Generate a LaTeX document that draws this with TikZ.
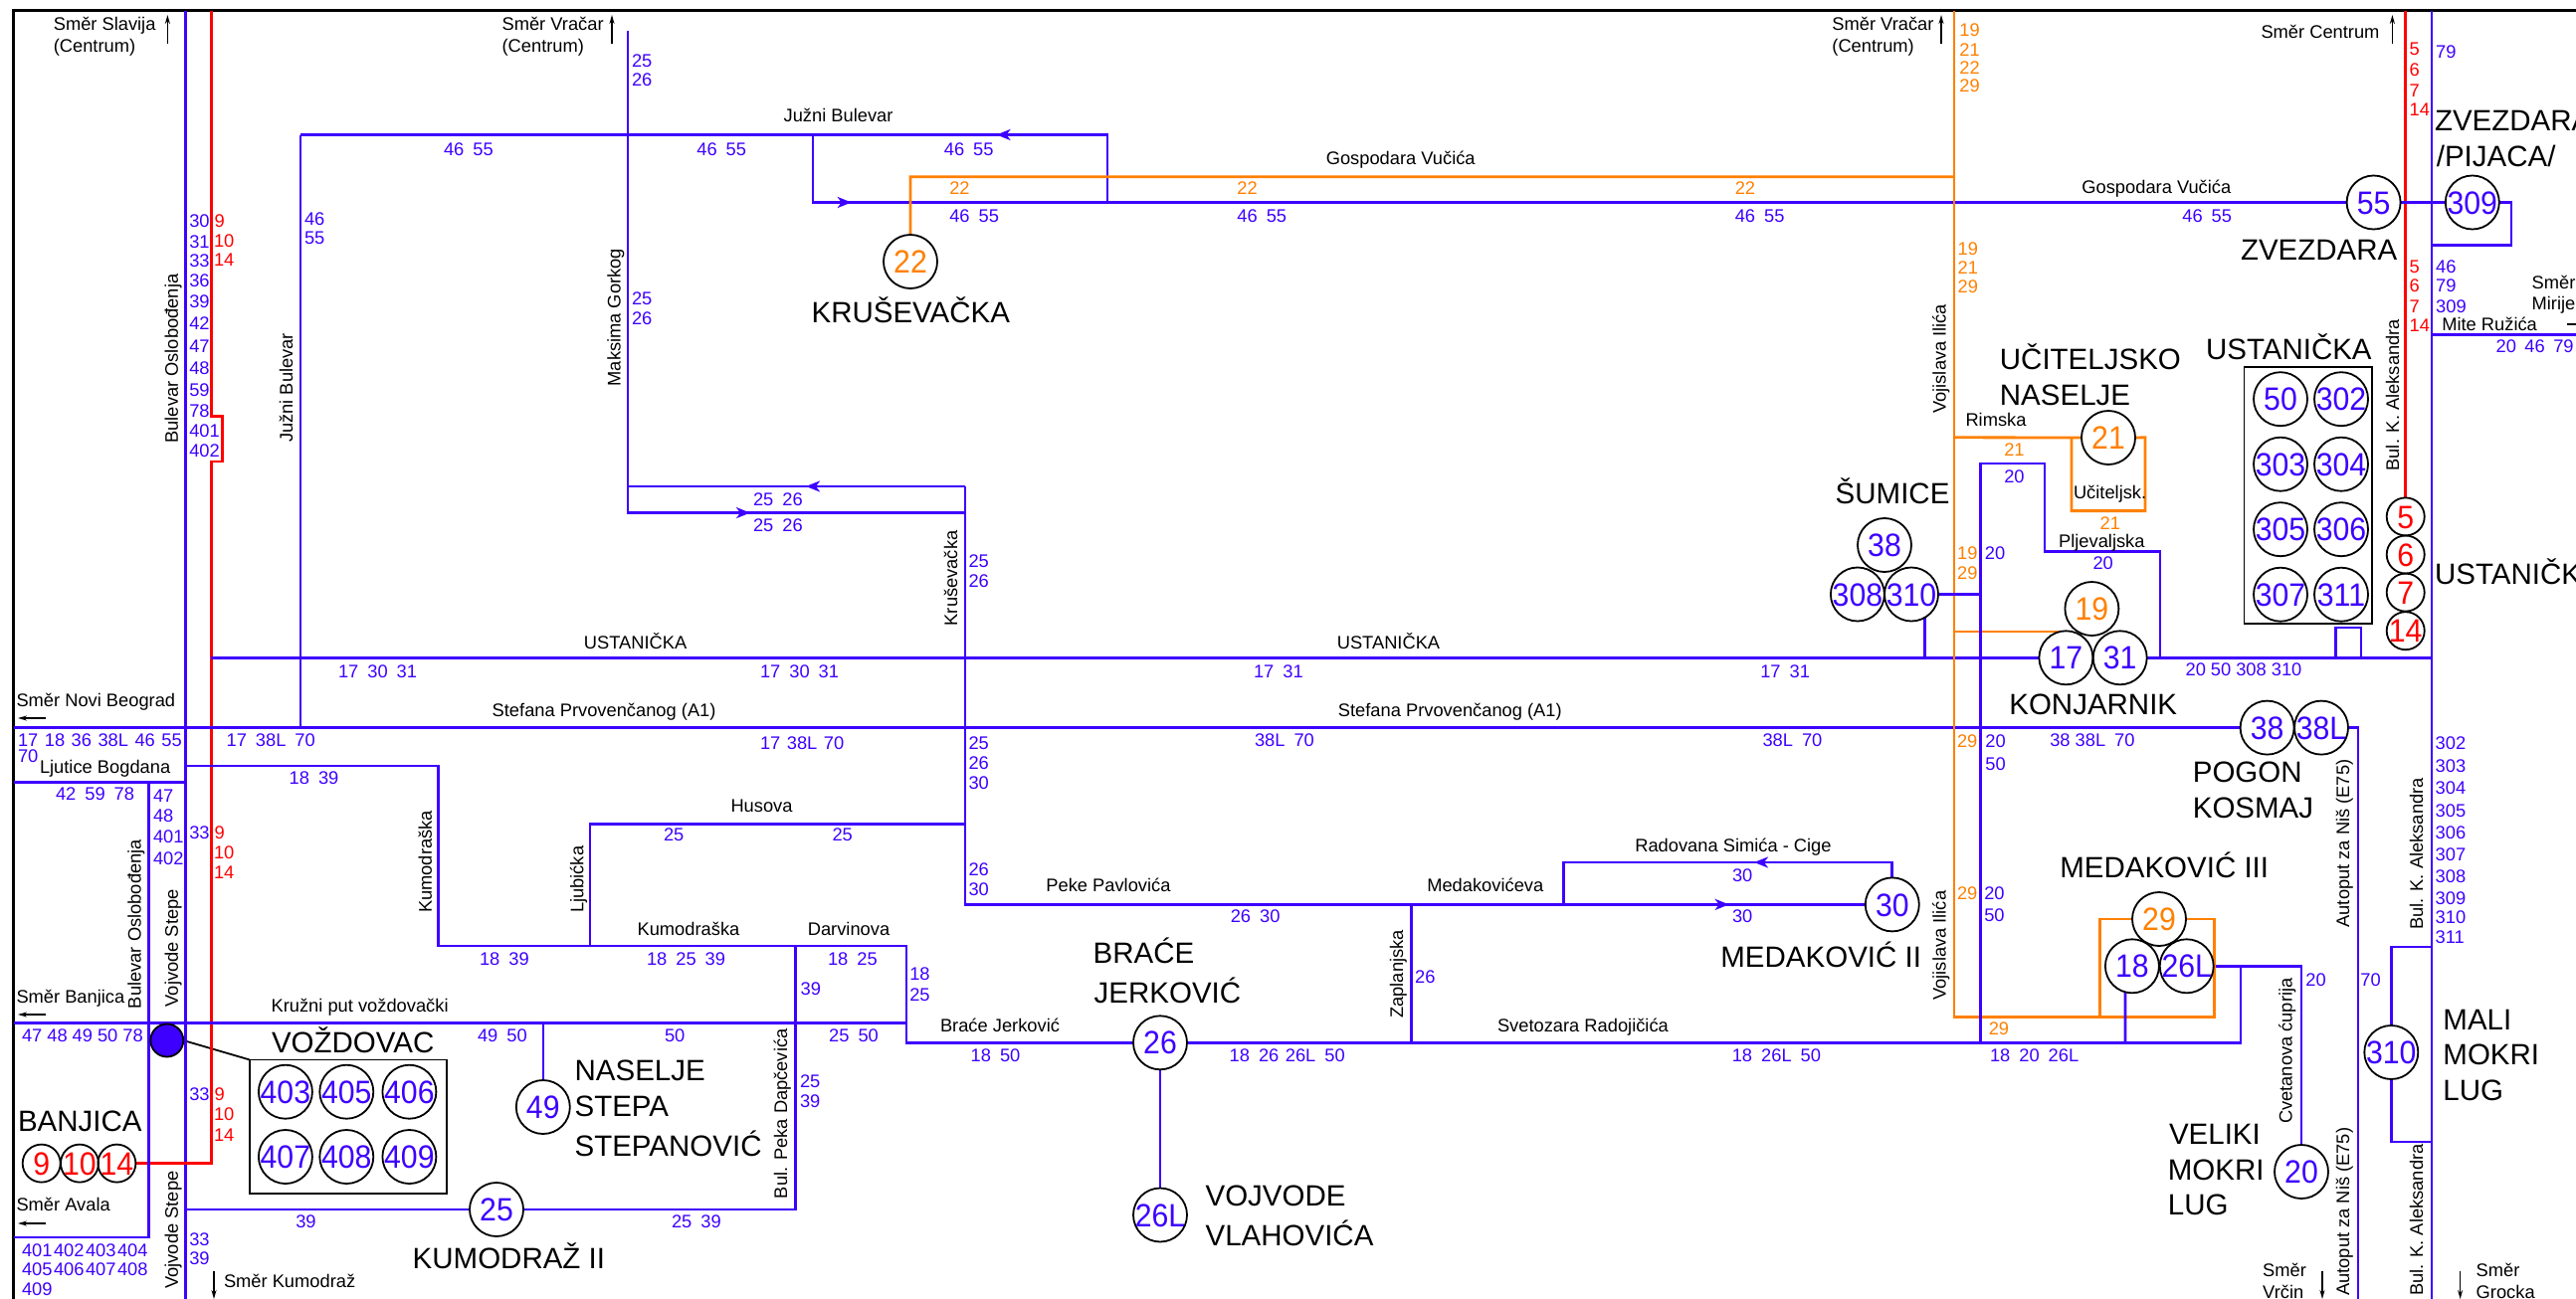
\documentclass[tikz,border=0pt]{standalone}
\usepackage{fontspec}
\usepackage{graphicx}
\setmainfont{Liberation Sans}
\usetikzlibrary{arrows.meta}
\definecolor{rb}{HTML}{3D00FF}
\definecolor{rr}{HTML}{FF0000}
\definecolor{ro}{HTML}{FF8000}
\pgfdeclarelayer{lines}
\pgfsetlayers{lines,main}
\tikzset{
  txt/.style={anchor=base west,inner sep=0pt,outer sep=0pt,font=\fontsize{18.3}{20}\selectfont},
  big/.style={txt,font=\fontsize{29.5}{32}\selectfont},
  vtxt/.style={txt,rotate=90},
  stn/.style={circle,draw=black,line width=1.8pt,inner sep=0pt,outer sep=0pt,font=\fontsize{32.5}{34}\selectfont},
  bl/.style={draw=rb,line width=2.8pt,line join=miter},
  bt/.style={draw=rb,line width=2.3pt,line join=miter},
  rd/.style={draw=rr,line width=2.8pt,line join=miter},
  og/.style={draw=ro,line width=2.8pt,line join=miter},
  dirarrow/.style={draw=black,line width=1.6pt,-{Stealth[length=9pt,width=5pt]}},
  routearrow/.style={draw=rb,line width=2.8pt,-{Stealth[length=14pt,width=11pt,inset=4pt]}},
  boxk/.style={draw=black,line width=1.8pt}
}
\newcounter{tx}
\newcommand\Tx[4]{\stepcounter{tx}\node[#1] (t\arabic{tx}) at (#2,#3) {#4};}
\newcommand\NumB[3]{\Tx{txt,text=rb}{#1}{#2}{#3}}
\newcommand\NumR[3]{\Tx{txt,text=rr}{#1}{#2}{#3}}
\newcommand\NumO[3]{\Tx{txt,text=ro}{#1}{#2}{#3}}
\newcommand\TxtK[3]{\Tx{txt}{#1}{#2}{#3}}
\newcommand\TxtV[3]{\Tx{vtxt}{#1}{#2}{#3}}
\newcommand\TxtB[3]{\Tx{big}{#1}{#2}{#3}}
\newcommand\St[6]{\node[stn,text=#2,minimum size=#6pt] (#1) at (#3,#4) {\smash{\raisebox{-.358em}{\makebox[0pt]{\scalebox{.93}[1]{#5}}}}};}
\newcommand\gp{\hspace{9pt}}
\begin{document}
\begin{tikzpicture}[x=1pt,y=-1pt]
\useasboundingbox (0,0) rectangle (2589,1306);
% ---------- stations
\St{s22}{ro}{915}{263}{22}{54}
\St{s55}{rb}{2385.6}{203.5}{55}{54}
\St{s309}{rb}{2484.8}{203.5}{309}{54}
\St{s21}{ro}{2119}{440}{21}{54}
\St{s50}{rb}{2292}{401.2}{50}{54}
\St{s302}{rb}{2353}{401.2}{302}{54}
\St{s303}{rb}{2292}{466.7}{303}{54}
\St{s304}{rb}{2353}{466.7}{304}{54}
\St{s305}{rb}{2292}{532.2}{305}{54}
\St{s306}{rb}{2353}{532.2}{306}{54}
\St{s307}{rb}{2292}{597.7}{307}{54}
\St{s311}{rb}{2353}{597.7}{311}{54}
\St{s38s}{rb}{1894}{548}{38}{54}
\St{s308}{rb}{1866.9}{597.5}{308}{54}
\St{s310s}{rb}{1921}{597.5}{310}{54}
\St{s19}{ro}{2102.4}{612}{19}{54}
\St{s17}{rb}{2076.4}{661.3}{17}{54}
\St{s31}{rb}{2130.7}{661.3}{31}{54}
\St{s38p}{rb}{2278.6}{731.6}{38}{54}
\St{s38L}{rb}{2333}{731.6}{38L}{54}
\St{s30}{rb}{1901.8}{909.4}{30}{54}
\St{s29}{ro}{2170}{924}{29}{54}
\St{s18}{rb}{2142.9}{971.3}{18}{54}
\St{s26Lm}{rb}{2197.7}{971.3}{26L}{54}
\St{s20}{rb}{2313}{1178}{20}{54}
\St{s310m}{rb}{2403.3}{1058}{310}{54}
\St{s26}{rb}{1166}{1048.3}{26}{54}
\St{s26Lv}{rb}{1166}{1221.5}{26L}{54}
\St{s25}{rb}{499}{1216}{25}{54}
\St{s49}{rb}{545.8}{1113}{49}{54}
\St{s403}{rb}{286.9}{1097.7}{403}{54}
\St{s405}{rb}{348.3}{1097.7}{405}{54}
\St{s406}{rb}{411.4}{1097.7}{406}{54}
\St{s407}{rb}{286.9}{1163}{407}{54}
\St{s408}{rb}{348.3}{1163}{408}{54}
\St{s409}{rb}{411.4}{1163}{409}{54}
\St{s9}{rr}{41.7}{1169.6}{9}{38}
\St{s10}{rr}{80}{1169.6}{10}{38}
\St{s14b}{rr}{117.4}{1169.6}{14}{38}
\St{s5}{rr}{2417.7}{519.4}{5}{38}
\St{s6}{rr}{2417.7}{557.5}{6}{38}
\St{s7}{rr}{2417.7}{595.6}{7}{38}
\St{s14u}{rr}{2417.7}{634.2}{14}{38}
\node[circle,draw=black,fill=rb,line width=1.8pt,minimum size=33pt,inner sep=0pt,outer sep=0pt] (dot) at (167.8,1046) {};
\node[boxk,anchor=north west,minimum width=197.7pt,minimum height=134.5pt,inner sep=0pt,outer sep=0pt] (vozbox) at (251,1065.5) {};
\node[boxk,anchor=north west,minimum width=128.6pt,minimum height=257.7pt,inner sep=0pt,outer sep=0pt] (ustbox) at (2255.4,369) {};
% ---------- lines
\begin{pgfonlayer}{lines}
\draw[draw=black,line width=3pt] (13.7,1306) -- (13.7,11) -- (2589,11);
\draw[draw=black,line width=1.8pt] (dot.east) -- (vozbox.north west);
% left trunk
\draw[bt] (186.5,11) -- (186.5,1306);
\draw[rd] (212.3,11) -- (212.3,418.6) -- (223.2,418.6) -- (223.2,464) -- (212.3,464) -- (212.3,1169.6) -- (s14b.east);
% horizontal main
\draw[bl] (212.3,661.3) -- (s17.west);
\draw[bl] (s31.east) -- (2444.3,661.3);
\draw[bl] (13.7,731.6) -- (s38p.west);
\draw[bl] (s38L.east) -- (2370,731.6) -- (2370,1306);
\draw[bl] (13.7,786.4) -- (186.5,786.4);
\draw[bl] (149.7,786.4) -- (149.7,1244) -- (13.7,1244);
\draw[bl] (13.7,1028.6) -- (911,1028.6);
\draw[bl] (186.5,770) -- (440.5,770) -- (440.5,951) -- (911,951) -- (911,1048.3) -- (s26.west);
\draw[bl] (s26.east) -- (2252,1048.3) -- (2252,971.3);
\draw[bl] (s26Lm.east) -- (2313,971.3) -- (s20.north);
\draw[bl] (593,951) -- (593,828.7) -- (969.7,828.7);
\draw[bl] (799.7,951) -- (799.7,1216) -- (s25.east);
\draw[bl] (s25.west) -- (186.5,1216);
\draw[bt] (545.8,1028.6) -- (s49.north);
% upper routes
\draw[bt] (301.7,731.6) -- (301.7,135.5);
\draw[bl] (301.7,135.5) -- (1112.9,135.5) -- (1112.9,203.5);
\draw[bl] (817,135.5) -- (817,203.5) -- (s55.west);
\draw[routearrow] (1030,135.5) -- (1001.5,135.5);
\draw[routearrow] (825,203.5) -- (855.7,203.5);
\draw[bt] (630.8,31) -- (630.8,515.6) -- (969.7,515.6);
\draw[bl] (630.8,489) -- (969.7,489);
\draw[routearrow] (840,489) -- (810,489);
\draw[routearrow] (725,515.6) -- (754,515.6);
\draw[bt] (969.7,489) -- (969.7,909.4) -- (s30.west);
\draw[bl] (1418.4,909.4) -- (1418.4,1048.3);
\draw[bl] (1571.4,909.4) -- (1571.4,867) -- (1901.8,867) -- (s30.north);
\draw[routearrow] (1790,867) -- (1763,867);
\draw[routearrow] (1712,909.4) -- (1737.7,909.4);
\draw[bl] (s26.south) -- (s26Lv.north);
% orange
\draw[og] (s22.north) -- (914.9,177.8) -- (1964,177.8);
\draw[og] (1964,11) -- (1964,1022.4) -- (2225.4,1022.4) -- (2225.4,924) -- (s29.east);
\draw[og] (2110.7,1022.4) -- (2110.7,924) -- (s29.west);
\draw[og] (1964,439.8) -- (s21.west);
\draw[og] (s21.east) -- (2156,439.8) -- (2156,513.6) -- (2081.9,513.6) -- (2081.9,439.8);
\draw[og] (1964,635) -- (2070,635);
% blue right part
\draw[bt] (1990.5,1048.3) -- (1990.5,466.3) -- (2055.3,466.3) -- (2055.3,554.6) -- (2171,554.6) -- (2171,661.3);
\draw[bl] (s310s.east) -- (1990.5,597.5);
\draw[bl] (s310s.-60) -- (1934.5,661.3);
\draw[bl] (2347.4,661.3) -- (2347.4,631) -- (2372.9,631) -- (2372.9,661.3);
\draw[rd] (2417.7,11) -- (s5.north);
\draw[bt] (2444.3,11) -- (2444.3,1306);
\draw[bl] (s55.east) -- (s309.west);
\draw[bl] (s309.east) -- (2524,203.5) -- (2524,246.6) -- (2444.3,246.6);
\draw[bl] (2444.3,336.6) -- (2589,336.6);
\draw[bl] (s18.-105) -- (2136,1048.3);
\draw[bl] (s310m.north) -- (2403.3,952) -- (2444.3,952);
\draw[bl] (s310m.south) -- (2403.3,1148) -- (2444.3,1148);
% direction arrows
\draw[dirarrow] (168.4,44) -- (168.4,15);
\draw[dirarrow] (615,44) -- (615,15);
\draw[dirarrow] (1951,44) -- (1951,15);
\draw[dirarrow] (2404.4,44) -- (2404.4,15);
\draw[dirarrow] (46,722) -- (18,722);
\draw[dirarrow] (46,1020) -- (18,1020);
\draw[dirarrow] (46,1230) -- (18,1230);
\draw[dirarrow] (215,1277.6) -- (215,1306);
\draw[dirarrow] (2334,1277.6) -- (2334,1306);
\draw[dirarrow] (2472.6,1277.6) -- (2472.6,1306);
\draw[draw=black,line width=1.6pt] (2580,326) -- (2589,326);
\end{pgfonlayer}
% ---------- black labels
\TxtK{53.8}{31}{Směr Slavija}
\TxtK{53.8}{52.6}{(Centrum)}
\TxtK{504.6}{31}{Směr Vračar}
\TxtK{504.6}{52.6}{(Centrum)}
\TxtK{1841.4}{31}{Směr Vračar}
\TxtK{1841.4}{52.6}{(Centrum)}
\TxtK{2272.5}{38.1}{Směr Centrum}
\TxtK{787.6}{122.3}{Južni Bulevar}
\TxtK{1332.8}{165.8}{Gospodara Vučića}
\TxtK{2092.4}{194}{Gospodara Vučića}
\TxtK{586.9}{652}{USTANIČKA}
\TxtK{1343.8}{652}{USTANIČKA}
\TxtK{16.5}{710.7}{Směr Novi Beograd}
\TxtK{494.7}{720}{Stefana Prvovenčanog (A1)}
\TxtK{1344.9}{720}{Stefana Prvovenčanog (A1)}
\TxtK{40}{777.2}{Ljutice Bogdana}
\TxtK{734.5}{816.5}{Husova}
\TxtK{640.6}{940.4}{Kumodraška}
\TxtK{811.8}{940.4}{Darvinova}
\TxtK{16.5}{1008.6}{Směr Banjica}
\TxtK{272.6}{1017.4}{Kružni put voždovački}
\TxtK{16.5}{1217.4}{Směr Avala}
\TxtK{225}{1294}{Směr Kumodraž}
\TxtK{1051.4}{896.9}{Peke Pavlovića}
\TxtK{1434.3}{896.9}{Medakovićeva}
\TxtK{945}{1037.4}{Braće Jerković}
\TxtK{1505}{1037.4}{Svetozara Radojičića}
\TxtK{1643.3}{856.3}{Radovana Simića - Cige}
\TxtK{2274.2}{1283}{Směr}
\TxtK{2274.2}{1305}{Vrčin}
\TxtK{2488.7}{1283}{Směr}
\TxtK{2488.7}{1305}{Grocka}
\TxtK{2544.6}{290}{Směr}
\TxtK{2544.6}{311.7}{Mirije}
\TxtK{2454.3}{332.4}{Mite Ružića}
\TxtK{1975.5}{428.2}{Rimska}
\TxtK{2084}{501.1}{Učiteljsk.}
\TxtK{2069.1}{550}{Pljevaljska}
% ---------- vertical labels
\TxtV{178.8}{445.6}{Bulevar Oslobođenja}
\TxtV{294}{444.8}{Južni Bulevar}
\TxtV{623.6}{388.4}{Maksima Gorkog}
\TxtV{962}{629.2}{Kruševačka}
\TxtV{433.9}{917.8}{Kumodraška}
\TxtV{586.3}{917.8}{Ljubićka}
\TxtV{141.5}{1014}{Bulevar Oslobođenja}
\TxtV{178.8}{1012.3}{Vojvode Stepe}
\TxtV{178.8}{1295.6}{Vojvode Stepe}
\TxtV{791}{1205}{Bul. Peka Dapčevića}
\TxtV{1410}{1023.6}{Zaplanjska}
\TxtV{1955.5}{415.7}{Vojislava Ilića}
\TxtV{1955.5}{1005.6}{Vojislava Ilića}
\TxtV{2411}{473.4}{Bul. K. Aleksandra}
\TxtV{2435}{934.5}{Bul. K. Aleksandra}
\TxtV{2435}{1302.7}{Bul. K. Aleksandra}
\TxtV{2361.2}{932.4}{Autoput za Niš (E75)}
\TxtV{2361.2}{1302.7}{Autoput za Niš (E75)}
\TxtV{2303.6}{1129.9}{Cvetanova ćuprija}
% ---------- big labels
\TxtB{815.6}{324}{KRUŠEVAČKA}
\TxtB{273}{1058.8}{VOŽDOVAC}
\TxtB{577.6}{1086.4}{NASELJE}
\TxtB{577.6}{1122.8}{STEPA}
\TxtB{577.6}{1162.5}{STEPANOVIĆ}
\TxtB{18}{1137.4}{BANJICA}
\TxtB{414.7}{1275.5}{KUMODRAŽ II}
\TxtB{1098.6}{968.8}{BRAĆE}
\TxtB{1099.7}{1008.6}{JERKOVIĆ}
\TxtB{1211.6}{1212.8}{VOJVODE}
\TxtB{1211.6}{1252.5}{VLAHOVIĆA}
\TxtB{1729.4}{972.2}{MEDAKOVIĆ II}
\TxtB{2019.3}{718.2}{KONJARNIK}
\TxtB{2203.8}{786.4}{POGON}
\TxtB{2203.8}{822.4}{KOSMAJ}
\TxtB{2070.3}{882.6}{MEDAKOVIĆ III}
\TxtB{2180}{1150}{VELIKI}
\TxtB{2178.9}{1186}{MOKRI}
\TxtB{2178.9}{1221}{LUG}
\TxtB{2455.4}{1035.8}{MALI}
\TxtB{2455.4}{1070.5}{MOKRI}
\TxtB{2455.4}{1106}{LUG}
\TxtB{2447}{131.4}{ZVEZDARA/}
\TxtB{2448.8}{167}{/PIJACA/}
\TxtB{2252}{261}{ZVEZDARA}
\TxtB{2009.9}{371.4}{UČITELJSKO}
\TxtB{2009.9}{407.5}{NASELJE}
\TxtB{2217}{361.4}{USTANIČKA}
\TxtB{1844.7}{506.5}{ŠUMICE}
\TxtB{2447}{587.4}{USTANIČK}
% ---------- blue numbers
\NumB{635}{67.6}{25}
\NumB{635}{86.2}{26}
\NumB{446}{156.7}{46\gp 55}
\NumB{700.4}{156.7}{46\gp 55}
\NumB{948.9}{156.7}{46\gp 55}
\NumB{190.3}{228.8}{30}
\NumB{190.3}{249}{31}
\NumB{190.3}{268.6}{33}
\NumB{190.3}{288}{36}
\NumB{190.3}{309.6}{39}
\NumB{190.3}{331}{42}
\NumB{190.3}{354.4}{47}
\NumB{190.3}{376.4}{48}
\NumB{190.3}{398}{59}
\NumB{190.3}{419.5}{78}
\NumB{190.3}{439.4}{401}
\NumB{190.3}{459.3}{402}
\NumB{306}{226.3}{46}
\NumB{306}{245.8}{55}
\NumB{635}{306.7}{25}
\NumB{635}{326.2}{26}
\NumB{757}{508.6}{25\gp 26}
\NumB{757}{534.7}{25\gp 26}
\NumB{954.3}{223}{46\gp 55}
\NumB{1243.4}{223}{46\gp 55}
\NumB{1743.8}{223}{46\gp 55}
\NumB{2193.3}{223}{46\gp 55}
\NumB{973.5}{570.8}{25}
\NumB{973.5}{590.7}{26}
\NumB{340}{681.8}{17\gp 30\gp 31}
\NumB{764}{681.8}{17\gp 30\gp 31}
\NumB{1260}{681.8}{17\gp 31}
\NumB{1769.3}{681.8}{17\gp 31}
\NumB{18}{750.4}{17\hspace{6.5pt}18\hspace{6.5pt}36\hspace{6.5pt}38L\hspace{6.5pt}46\hspace{6.5pt}55}
\NumB{18}{766.3}{70}
\NumB{227.6}{750.4}{17\gp 38L\gp 70}
\NumB{764}{753.3}{17\hspace{6.5pt}38L\hspace{6.5pt}70}
\NumB{1261}{750.4}{38L\gp 70}
\NumB{1771.5}{750.4}{38L\gp 70}
\NumB{290.7}{788.9}{18\gp 39}
\NumB{56}{804.4}{42\gp 59\gp 78}
\NumB{154}{806}{47}
\NumB{154}{826}{48}
\NumB{154}{847.5}{401}
\NumB{154}{869.2}{402}
\NumB{190.3}{843.3}{33}
\NumB{667}{845.8}{25}
\NumB{836.5}{845.8}{25}
\NumB{482}{970.5}{18\gp 39}
\NumB{650}{970.5}{18\gp 25\gp 39}
\NumB{832}{970.5}{18\gp 25}
\NumB{804.6}{1000.6}{39}
\NumB{22}{1047.5}{47\hspace{5pt}48\hspace{5pt}49\hspace{5pt}50\hspace{5pt}78}
\NumB{480}{1047.5}{49\gp 50}
\NumB{668}{1047.5}{50}
\NumB{833.2}{1047.5}{25\gp 50}
\NumB{804}{1093.5}{25}
\NumB{804}{1113.6}{39}
\NumB{190.3}{1106.9}{33}
\NumB{297.3}{1234.5}{39}
\NumB{675}{1234.5}{25\gp 39}
\NumB{190.3}{1252.5}{33}
\NumB{190.3}{1271}{39}
\NumB{22}{1263}{401\hspace{1.5pt}402\hspace{1.5pt}403\hspace{1.5pt}404}
\NumB{22}{1282}{405\hspace{1.5pt}406\hspace{1.5pt}407\hspace{1.5pt}408}
\NumB{22}{1302}{409}
\NumB{973.5}{753.3}{25}
\NumB{973.5}{773.4}{26}
\NumB{973.5}{793.5}{30}
\NumB{973.5}{880.5}{26}
\NumB{973.5}{900.2}{30}
\NumB{1236.8}{927.8}{26\gp 30}
\NumB{914.3}{985.6}{18}
\NumB{914.3}{1006.5}{25}
\NumB{975.7}{1067.5}{18\gp 50}
\NumB{1235.7}{1067.5}{18\gp 26\hspace{6.5pt}26L\gp 50}
\NumB{1422.2}{988.5}{26}
\NumB{1741}{886.4}{30}
\NumB{1741}{927.4}{30}
\NumB{1740.8}{1067.5}{18\gp 26L\gp 50}
\NumB{1994.3}{904.4}{20}
\NumB{1994.3}{926}{50}
\NumB{1995.4}{751.3}{20}
\NumB{1995.4}{774.7}{50}
\NumB{2060.3}{750.4}{38\hspace{5pt}38L\gp 70}
\NumB{2000}{1067.5}{18\gp 20\gp 26L}
\NumB{2196.6}{679.3}{20\hspace{5pt}50\hspace{5pt}308\hspace{5pt}310}
\NumB{2447.7}{753.3}{302}
\NumB{2447.7}{776.4}{303}
\NumB{2447.7}{798.5}{304}
\NumB{2447.7}{821.5}{305}
\NumB{2447.7}{843.3}{306}
\NumB{2447.7}{865.5}{307}
\NumB{2447.7}{887.2}{308}
\NumB{2447.7}{909}{309}
\NumB{2447.7}{928.2}{310}
\NumB{2447.7}{948.3}{311}
\NumB{2372.3}{991.4}{70}
\NumB{2317.4}{991.4}{20}
\NumB{2448.2}{58.4}{79}
\NumB{2448.2}{274.4}{46}
\NumB{2448.2}{293.5}{79}
\NumB{2448.2}{314.6}{309}
\NumB{2508.6}{354.8}{20\hspace{8.5pt}46\hspace{8.5pt}79}
\NumB{2014.3}{485.4}{20}
\NumB{2103.5}{572.8}{20}
\NumB{1994.9}{562.9}{20}
% ---------- red numbers
\NumR{215.6}{228.8}{9}
\NumR{215}{248.3}{10}
\NumR{215}{267.4}{14}
\NumR{215.6}{843.3}{9}
\NumR{215}{863.4}{10}
\NumR{215}{883.5}{14}
\NumR{215.6}{1106.9}{9}
\NumR{215}{1126}{10}
\NumR{215}{1147}{14}
\NumR{2421.6}{56}{5}
\NumR{2421.6}{76.7}{6}
\NumR{2421.6}{97.4}{7}
\NumR{2421.6}{116}{14}
\NumR{2421.6}{274.4}{5}
\NumR{2421.6}{293.5}{6}
\NumR{2421.6}{314.2}{7}
\NumR{2421.6}{333.7}{14}
% ---------- orange numbers
\NumO{954.3}{195.6}{22}
\NumO{1243.4}{195.6}{22}
\NumO{1743.8}{195.6}{22}
\NumO{1969.4}{36.5}{19}
\NumO{1969.4}{56.8}{21}
\NumO{1969.4}{74.6}{22}
\NumO{1969.4}{92.8}{29}
\NumO{1967.7}{256}{19}
\NumO{1967.7}{275.6}{21}
\NumO{1967.7}{294.3}{29}
\NumO{2014.3}{458}{21}
\NumO{2110.7}{532.6}{21}
\NumO{1967.2}{562.9}{19}
\NumO{1967.2}{582.8}{29}
\NumO{1967}{751.3}{29}
\NumO{1967}{904.4}{29}
\NumO{1998.8}{1040.4}{29}
\end{tikzpicture}
\end{document}
